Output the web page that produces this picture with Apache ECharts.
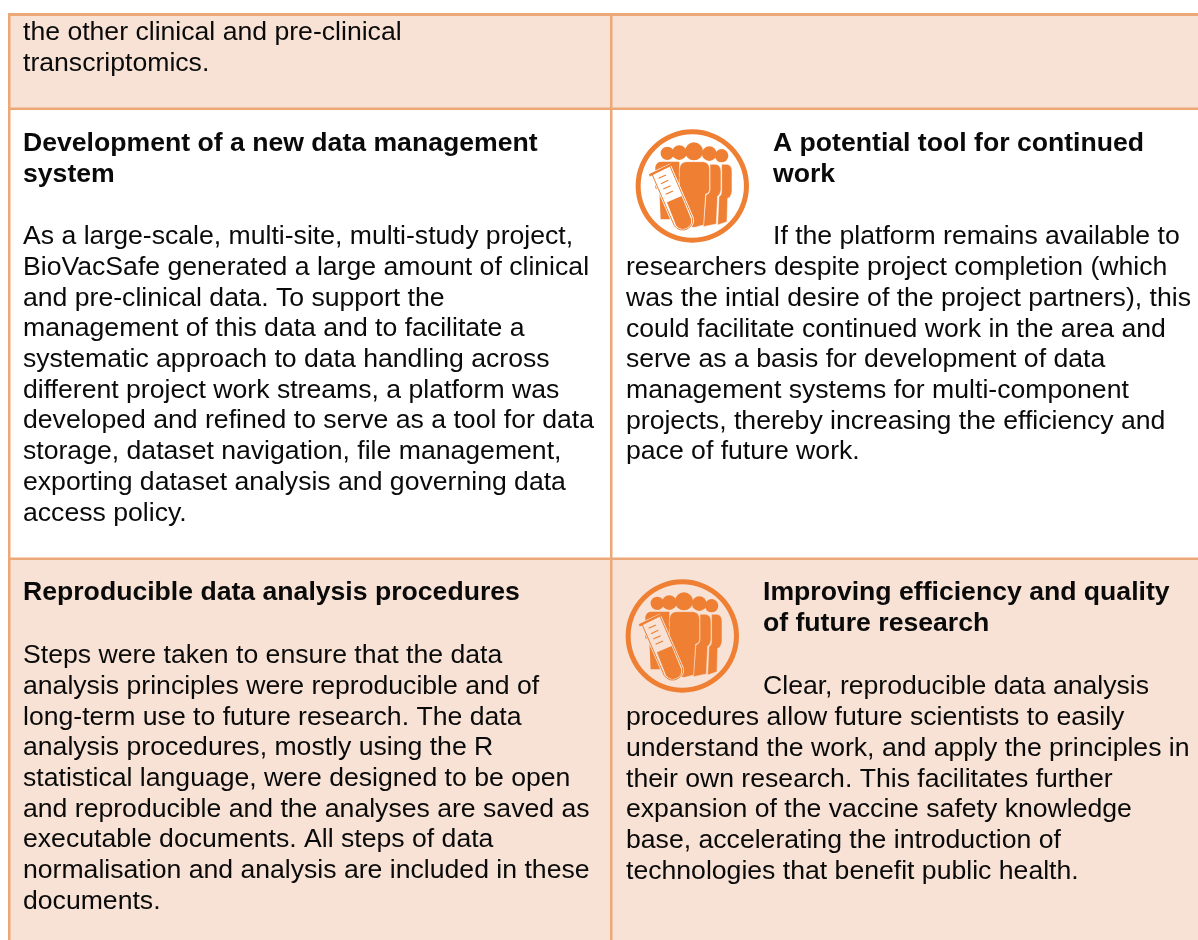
<!DOCTYPE html>
<html><head><meta charset="utf-8">
<style>html,body{margin:0;padding:0;background:#fff}#c{width:1198px;height:940px}</style>
<script src="https://cdn.jsdelivr.net/npm/echarts@6/dist/echarts.min.js"></script>
</head><body><div id="c"></div>
<script>
const carryOverLines = ["the other clinical and pre-clinical", "transcriptomics."];
const dataMgmtHeading = ["Development of a new data management", "system"];
const dataMgmtBody = [
  "As a large-scale, multi-site, multi-study project,",
  "BioVacSafe generated a large amount of clinical",
  "and pre-clinical data. To support the",
  "management of this data and to facilitate a",
  "systematic approach to data handling across",
  "different project work streams, a platform was",
  "developed and refined to serve as a tool for data",
  "storage, dataset navigation, file management,",
  "exporting dataset analysis and governing data",
  "access policy."
];
const toolHeading = ["A potential tool for continued", "work"];
const toolLead = ["If the platform remains available to"];
const toolBody = [
  "researchers despite project completion (which",
  "was the intial desire of the project partners), this",
  "could facilitate continued work in the area and",
  "serve as a basis for development of data",
  "management systems for multi-component",
  "projects, thereby increasing the efficiency and",
  "pace of future work."
];
const reproHeading = ["Reproducible data analysis procedures"];
const reproBody = [
  "Steps were taken to ensure that the data",
  "analysis principles were reproducible and of",
  "long-term use to future research. The data",
  "analysis procedures, mostly using the R",
  "statistical language, were designed to be open",
  "and reproducible and the analyses are saved as",
  "executable documents. All steps of data",
  "normalisation and analysis are included in these",
  "documents."
];
const futureHeading = ["Improving efficiency and quality", "of future research"];
const futureLead = ["Clear, reproducible data analysis"];
const futureBody = [
  "procedures allow future scientists to easily",
  "understand the work, and apply the principles in",
  "their own research. This facilitates further",
  "expansion of the vaccine safety knowledge",
  "base, accelerating the introduction of",
  "technologies that benefit public health."
];

const FILL = '#F7E2D5', BORDER = '#EDA877', ORANGE = '#EE7F33', INK = '#0A0A0A';
const FS = 26.62, PITCH = 30.72, TEXT_DY = 1.8, FAMILY = '"Liberation Sans", Arial, sans-serif';
const elements = [];

function rect(x, y, w, h, fill) {
  elements.push({type: 'rect', silent: true, shape: {x, y, width: w, height: h}, style: {fill}});
}
function lines(arr, x, yFirst, bold) {
  arr.forEach((t, i) => elements.push({
    type: 'text', silent: true,
    style: {text: t, x, y: yFirst + TEXT_DY + i * PITCH, fill: INK,
      font: (bold ? 'bold ' : '') + FS + 'px ' + FAMILY,
      align: 'left', verticalAlign: 'middle'}
  }));
}
const shapeNames = new Map();
function path(d, style) {
  if (!shapeNames.has(d)) {
    const name = 'iconPart' + shapeNames.size;
    echarts.graphic.registerShape(name, echarts.graphic.extendPath(d, {}));
    shapeNames.set(d, name);
  }
  return {type: shapeNames.get(d), silent: true, style};
}
function icon(cx, cy, bg) {
  const c = (x, y, r, style) => ({type: 'circle', silent: true, shape: {cx: x, cy: y, r}, style});
  const o = {fill: ORANGE, stroke: bg, lineWidth: 1.5};
  const children = [
    {type: 'ring', silent: true, shape: {cx: 217, cy: 228, r: 170, r0: 155}, style: {fill: ORANGE}},
    c(142, 130, 20, {fill: ORANGE}),
    c(305, 137, 20, {fill: ORANGE}),
    c(268, 131, 22, {fill: ORANGE}), c(178, 128, 22, {fill: ORANGE}), c(222, 124, 27, {fill: ORANGE}),
    path('M106 172 Q108 155 125 155 L178 155 L180 300 L175 328 L122 328 L118 240 L106 235 Z', {fill: ORANGE}),
    path('M305 163 L322 163 Q336 166 336 185 L336 245 Q333 262 323 265 L321 335 L293 345 L297 260 Q305 255 305 245 Z', o),
    path('M270 163 L288 163 Q303 166 303 185 L303 240 Q301 256 293 258 L289 342 L250 350 L258 255 Q270 250 270 240 Z', o),
    path('M178 178 Q180 155 200 155 L250 155 Q269 158 269 178 L269 240 Q267 252 257 252 L251 345 L225 352 L205 352 L178 250 Z', o),
    path('M95 190 L163 347 A30 30 0 0 0 217 323 L149 166 Z', {fill: bg, stroke: bg, lineWidth: 8}),
    path('M95 190 L163 347 A30 30 0 0 0 217 323 L149 166', {fill: 'none', stroke: ORANGE, lineWidth: 3}),
    path('M141 277 L168 346 A25 25 0 0 0 213 326 L185 258 Z', {fill: ORANGE}),
    path('M88 196 L158 162', {fill: 'none', stroke: ORANGE, lineWidth: 7}),
    path('M116 205 L138 195 M123 221 L145 211 M130 237 L152 227 M137 253 L159 243', {fill: 'none', stroke: ORANGE, lineWidth: 3.5}),
    path('M160 172 L168 176 M166 186 L174 190 M172 200 L180 204', {fill: 'none', stroke: ORANGE, lineWidth: 3})
  ];
  elements.push({type: 'group', silent: true, x: cx - 217 / 3, y: cy - 228 / 3, scaleX: 1 / 3, scaleY: 1 / 3, children});
}

rect(9, 15, 1189, 93, FILL);
rect(9, 558, 1189, 382, FILL);
rect(8, 13, 1190, 3, BORDER);
rect(8, 107.5, 1190, 2.5, BORDER);
rect(8, 557.5, 1190, 2.5, BORDER);
rect(8, 13, 2.5, 927, BORDER);
rect(610, 13, 2.5, 927, BORDER);

icon(692.3, 186, '#FFFFFF');
icon(682.3, 636, FILL);

lines(carryOverLines, 23, 31, false);
lines(dataMgmtHeading, 23, 142, true);
lines(dataMgmtBody, 23, 235, false);
lines(toolHeading, 773, 142, true);
lines(toolLead, 773, 235, false);
lines(toolBody, 626, 266, false);
lines(reproHeading, 23, 591, true);
lines(reproBody, 23, 654, false);
lines(futureHeading, 763, 591, true);
lines(futureLead, 763, 685, false);
lines(futureBody, 626, 716, false);

const chart = echarts.init(document.getElementById('c'), null, {renderer: 'canvas'});
chart.setOption({animation: false, backgroundColor: '#ffffff', graphic: {elements}});
</script>
</body></html>
